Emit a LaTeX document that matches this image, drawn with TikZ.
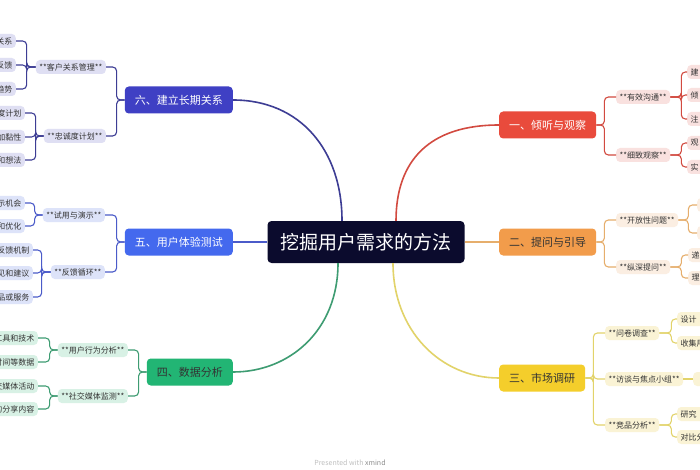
\documentclass[tikz,border=0pt]{standalone}
\usepackage{fontspec}
\newfontfamily\cjk{Noto Sans CJK SC}
\usetikzlibrary{positioning}
\definecolor{cRoot}{HTML}{0B0B2D}
\definecolor{cTxt}{HTML}{333333}
\definecolor{cRed}{HTML}{E94B3C}\definecolor{cRedLn}{HTML}{D24A40}\definecolor{cRedLt}{HTML}{F9E1DF}
\definecolor{cOra}{HTML}{F29C4B}\definecolor{cOraLn}{HTML}{E6AE6C}\definecolor{cOraLt}{HTML}{FBEEE2}
\definecolor{cYel}{HTML}{F4CE2B}\definecolor{cYelLn}{HTML}{E2D36A}\definecolor{cYelLt}{HTML}{FAF3D5}
\definecolor{cGrn}{HTML}{22B574}\definecolor{cGrnLn}{HTML}{3E9C72}\definecolor{cGrnLt}{HTML}{D8F1E5}
\definecolor{cBlu}{HTML}{4469EE}\definecolor{cBluLn}{HTML}{4B5BC9}\definecolor{cBluLt}{HTML}{DDE3F9}
\definecolor{cInd}{HTML}{3F40C4}\definecolor{cIndLn}{HTML}{3D3D94}\definecolor{cIndLt}{HTML}{DFDFF3}
\tikzset{
  rootblk/.style={rectangle,rounded corners=4pt,fill=cRoot,text=white,font=\cjk\fontsize{19}{19}\selectfont,inner xsep=13pt,minimum height=42pt},
  topblk/.style={rectangle,rounded corners=4pt,font=\cjk\fontsize{11}{11}\selectfont,inner xsep=10pt,minimum height=27pt},
  subblk/.style={rectangle,rounded corners=4pt,font=\cjk\fontsize{8}{8}\selectfont,text=cTxt,inner xsep=3.5pt,inner ysep=0pt,minimum height=14pt},
  subL/.style={subblk,anchor=east},
  subR/.style={subblk,anchor=west},
  lfL/.style={subblk,anchor=east,text width=60pt,align=right},
  lfR/.style={subblk,anchor=west,text width=40pt,align=left},
  mainln/.style={line width=1.6pt},
  ln/.style={line width=1.1pt,rounded corners=4pt},
  red/.style={fill=cRedLt},ora/.style={fill=cOraLt},yel/.style={fill=cYelLt},
  grn/.style={fill=cGrnLt},blu/.style={fill=cBluLt},ind/.style={fill=cIndLt}
}
\begin{document}
\begin{tikzpicture}[x=1pt,y=-1pt]
  \useasboundingbox (0,0) rectangle (700,470);
  \fill[white] (0,0) rectangle (700,470);
  \clip (0,0) rectangle (700,470);

  \node[rootblk] (root) at (366,242) {挖掘用户需求的方法};

  \node[topblk,fill=cRed,text=white,anchor=west] (one) at (499,125) {一、倾听与观察};
  \node[topblk,fill=cOra,text=cTxt,anchor=west] (two) at (499,242) {二、提问与引导};
  \node[topblk,fill=cYel,text=cTxt,anchor=west] (three) at (499,378) {三、市场调研};
  \node[topblk,fill=cGrn,text=cTxt,anchor=east] (four) at (233,372) {四、数据分析};
  \node[topblk,fill=cBlu,text=white,anchor=east] (five) at (233,242) {五、用户体验测试};
  \node[topblk,fill=cInd,text=white,anchor=east] (six) at (233,100) {六、建立长期关系};

  \node[subR,red] (comm) at (616,97) {**有效沟通**};
  \node[subR,red] (observe) at (616,155) {**细致观察**};
  \node[subR,ora] (openq) at (616,220) {**开放性问题**};
  \node[subR,ora] (deepq) at (616,267) {**纵深提问**};
  \node[subR,yel] (survey) at (605,333) {**问卷调查**};
  \node[subR,yel] (interview) at (605,379) {**访谈与焦点小组**};
  \node[subR,yel] (compete) at (605,425) {**竞品分析**};
  \node[subL,grn] (behav) at (128,350) {**用户行为分析**};
  \node[subL,grn] (social) at (128,396) {**社交媒体监测**};
  \node[subL,blu] (trial) at (105,215) {**试用与演示**};
  \node[subL,blu] (fbloop) at (105,272) {**反馈循环**};
  \node[subL,ind] (crm) at (106,67) {**客户关系管理**};
  \node[subL,ind] (loyal) at (106,136) {**忠诚度计划**};

  \node[lfR,red] (comm1) at (687,72) {建};
  \node[lfR,red] (comm2) at (687,95) {倾};
  \node[lfR,red] (comm3) at (687,119) {注};
  \node[lfR,red] (obs1) at (687,143) {观};
  \node[lfR,red] (obs2) at (687,167) {实};
  \node[lfR,ora] (open1) at (697,205) {};
  \node[lfR,ora] (open2) at (697,233) {};
  \node[lfR,ora] (deep1) at (688,255) {递};
  \node[lfR,ora] (deep2) at (688,278) {理};
  \node[lfR,yel] (surv1) at (677,319) {设计};
  \node[lfR,yel] (surv2) at (677,343) {收集用};
  \node[lfR,yel] (intv1) at (693,379) {};
  \node[lfR,yel] (comp1) at (677,414) {研究};
  \node[lfR,yel] (comp2) at (677,437) {对比分};
  \node[lfL,grn] (beh1) at (38,338) {工具和技术};
  \node[lfL,grn] (beh2) at (38,362) {时间等数据};
  \node[lfL,grn] (soc1) at (38,386) {交媒体活动};
  \node[lfL,grn] (soc2) at (38,409) {的分享内容};
  \node[lfL,blu] (tri1) at (25,203) {示机会};
  \node[lfL,blu] (tri2) at (25,226) {和优化};
  \node[lfL,blu] (fb1) at (33,250) {反馈机制};
  \node[lfL,blu] (fb2) at (33,273) {见和建议};
  \node[lfL,blu] (fb3) at (33,297) {品或服务};
  \node[lfL,ind] (crm1) at (16,41) {关系};
  \node[lfL,ind] (crm2) at (16,65) {反馈};
  \node[lfL,ind] (crm3) at (16,89) {趋势};
  \node[lfL,ind] (loy1) at (25,113) {度计划};
  \node[lfL,ind] (loy2) at (25,137) {加黏性};
  \node[lfL,ind] (loy3) at (25,160) {和想法};

  \node[font=\cjk\fontsize{7}{7}\selectfont,text=black!25] (mark) at (350,463) {Presented with {\color{black!45}xmind}};

  \draw[mainln,cRedLn] ([xshift=30pt]root.north) .. controls (396,160) and (430,125) .. (one.west);
  \draw[mainln,cOraLn] (root.east) -- (two.west);
  \draw[mainln,cYelLn] ([xshift=27pt]root.south) .. controls (393,330) and (440,378) .. (three.west);
  \draw[mainln,cGrnLn] ([xshift=-28pt]root.south) .. controls (338,330) and (290,372) .. (four.east);
  \draw[mainln,cBluLn] (root.west) -- (five.east);
  \draw[mainln,cIndLn] ([xshift=-24pt]root.north) .. controls (342,150) and (300,100) .. (six.east);

  \draw[ln,cRedLn] (one.east) -- ++(8,0) |- (comm.west);
  \draw[ln,cRedLn] (one.east) -- ++(8,0) |- (observe.west);
  \draw[ln,cOraLn] (two.east) -- ++(8,0) |- (openq.west);
  \draw[ln,cOraLn] (two.east) -- ++(8,0) |- (deepq.west);
  \draw[ln,cYelLn] (three.east) -- ++(8,0) |- (survey.west);
  \draw[ln,cYelLn] (three.east) -- ++(8,0) |- (interview.west);
  \draw[ln,cYelLn] (three.east) -- ++(8,0) |- (compete.west);
  \draw[ln,cGrnLn] (four.west) -- ++(-8,0) |- (behav.east);
  \draw[ln,cGrnLn] (four.west) -- ++(-8,0) |- (social.east);
  \draw[ln,cBluLn] (five.west) -- ++(-8,0) |- (trial.east);
  \draw[ln,cBluLn] (five.west) -- ++(-8,0) |- (fbloop.east);
  \draw[ln,cIndLn] (six.west) -- ++(-8,0) |- (crm.east);
  \draw[ln,cIndLn] (six.west) -- ++(-8,0) |- (loyal.east);

  \draw[ln,cRedLn] (comm.east) -- ++(11,0) |- (comm1.west);
  \draw[ln,cRedLn] (comm.east) -- ++(11,0) |- (comm2.west);
  \draw[ln,cRedLn] (comm.east) -- ++(11,0) |- (comm3.west);
  \draw[ln,cRedLn] (observe.east) -- ++(11,0) |- (obs1.west);
  \draw[ln,cRedLn] (observe.east) -- ++(11,0) |- (obs2.west);
  \draw[ln,cOraLn] (openq.east) -- ++(10,0) |- (open1.west);
  \draw[ln,cOraLn] (openq.east) -- ++(10,0) |- (open2.west);
  \draw[ln,cOraLn] (deepq.east) -- ++(11,0) |- (deep1.west);
  \draw[ln,cOraLn] (deepq.east) -- ++(11,0) |- (deep2.west);
  \draw[ln,cYelLn] (survey.east) -- ++(12,0) |- (surv1.west);
  \draw[ln,cYelLn] (survey.east) -- ++(12,0) |- (surv2.west);
  \draw[ln,cYelLn] (interview.east) -- (intv1.west);
  \draw[ln,cYelLn] (compete.east) -- ++(12,0) |- (comp1.west);
  \draw[ln,cYelLn] (compete.east) -- ++(12,0) |- (comp2.west);
  \draw[ln,cGrnLn] (behav.west) -- ++(-8,0) |- (beh1.east);
  \draw[ln,cGrnLn] (behav.west) -- ++(-8,0) |- (beh2.east);
  \draw[ln,cGrnLn] (social.west) -- ++(-8,0) |- (soc1.east);
  \draw[ln,cGrnLn] (social.west) -- ++(-8,0) |- (soc2.east);
  \draw[ln,cBluLn] (trial.west) -- ++(-8,0) |- (tri1.east);
  \draw[ln,cBluLn] (trial.west) -- ++(-8,0) |- (tri2.east);
  \draw[ln,cBluLn] (fbloop.west) -- ++(-9,0) |- (fb1.east);
  \draw[ln,cBluLn] (fbloop.west) -- ++(-9,0) |- (fb2.east);
  \draw[ln,cBluLn] (fbloop.west) -- ++(-9,0) |- (fb3.east);
  \draw[ln,cIndLn] (crm.west) -- ++(-9,0) |- (crm1.east);
  \draw[ln,cIndLn] (crm.west) -- ++(-9,0) |- (crm2.east);
  \draw[ln,cIndLn] (crm.west) -- ++(-9,0) |- (crm3.east);
  \draw[ln,cIndLn] (loyal.west) -- ++(-8,0) |- (loy1.east);
  \draw[ln,cIndLn] (loyal.west) -- ++(-8,0) |- (loy2.east);
  \draw[ln,cIndLn] (loyal.west) -- ++(-8,0) |- (loy3.east);
\end{tikzpicture}
\end{document}
